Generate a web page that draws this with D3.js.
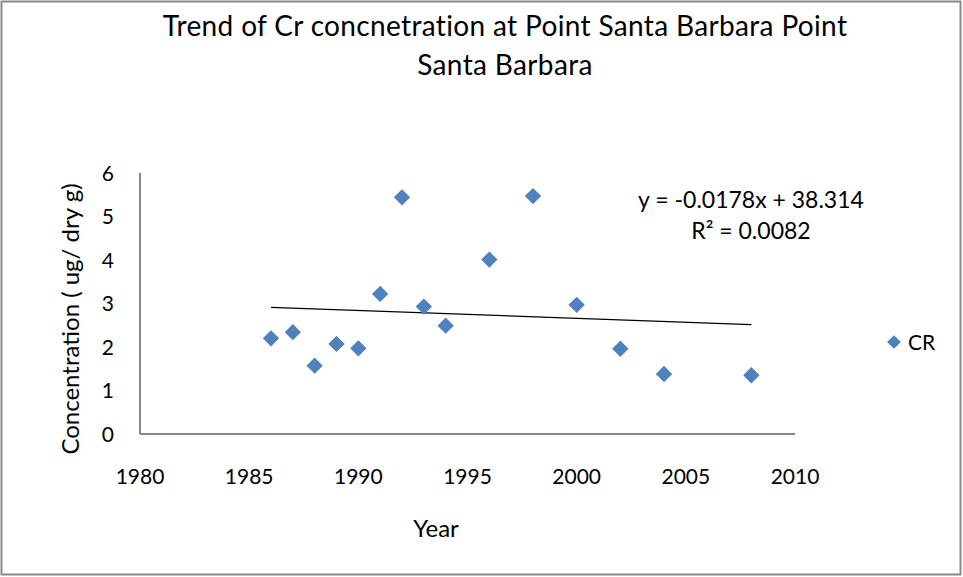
<!DOCTYPE html>
<html lang="en">
<head>
<meta charset="UTF-8">
<title>Trend of Cr concentration</title>
<script src="https://d3js.org/d3.v7.min.js"></script>
<style>
  body { margin: 0; background: #fff; }
  svg text { font-family: Lato, "Open Sans", sans-serif; fill: #000; }
  .tick-label { font-size: 21px; }
</style>
</head>
<body>
<svg id="chart"></svg>
<script>
// Data
var years = [1986, 1987, 1988, 1989, 1990, 1991, 1992, 1993, 1994, 1996, 1998, 2000, 2002, 2004, 2008];
var crValues = [2.20, 2.34, 1.57, 2.07, 1.97, 3.22, 5.44, 2.93, 2.49, 4.01, 5.47, 2.97, 1.96, 1.38, 1.35];
var xTicks = [1980, 1985, 1990, 1995, 2000, 2005, 2010];
var yTicks = [0, 1, 2, 3, 4, 5, 6];
var titleLines = ["Trend of Cr concnetration at Point Santa Barbara Point", "Santa Barbara"];
var equationLines = ["y = -0.0178x + 38.314", "R\u00b2 = 0.0082"];

var W = 963, H = 577;
var svg = d3.select("#chart").attr("width", W).attr("height", H);

// outer frame
svg.append("rect")
  .attr("x", 1.5).attr("y", 1.5)
  .attr("width", W - 4).attr("height", H - 4)
  .attr("fill", "none").attr("stroke", "#898989").attr("stroke-width", 2);

// scales
var x = d3.scaleLinear().domain([1980, 2010]).range([140, 795]);
var y = d3.scaleLinear().domain([0, 6]).range([434, 173]);

// axes lines
svg.append("line")
  .attr("x1", x(1980)).attr("x2", x(1980))
  .attr("y1", y(0)).attr("y2", y(6))
  .attr("stroke", "#868686").attr("stroke-width", 2);
svg.append("line")
  .attr("x1", x(1980)).attr("x2", x(2010))
  .attr("y1", y(0)).attr("y2", y(0))
  .attr("stroke", "#868686").attr("stroke-width", 2);

// tick labels
svg.selectAll(".ylab").data(yTicks).enter().append("text")
  .attr("class", "tick-label")
  .attr("x", 114).attr("y", d => y(d))
  .attr("dy", "0.36em")
  .attr("text-anchor", "end")
  .text(d => d);

svg.selectAll(".xlab").data(xTicks).enter().append("text")
  .attr("class", "tick-label")
  .attr("x", d => x(d)).attr("y", 484)
  .attr("text-anchor", "middle")
  .text(d => d);

// title
svg.selectAll(".title").data(titleLines).enter().append("text")
  .attr("x", 505).attr("y", (d, i) => 36 + i * 39)
  .attr("text-anchor", "middle")
  .style("font-size", "28px")
  .style("letter-spacing", "0.35px")
  .text(d => d);

// axis titles
svg.append("text")
  .attr("x", 436).attr("y", 537)
  .attr("text-anchor", "middle")
  .style("font-size", "24px")
  .text("Year");

svg.append("text")
  .attr("transform", "translate(79,319) rotate(-90)")
  .attr("text-anchor", "middle")
  .style("font-size", "24px")
  .text("Concentration ( ug/ dry g)");

// linear trendline (least squares on the data)
var pts = years.map((yr, i) => [yr, crValues[i]]);
var mx = d3.mean(years), my = d3.mean(crValues);
var sxy = d3.sum(pts, p => (p[0] - mx) * (p[1] - my));
var sxx = d3.sum(years, v => (v - mx) * (v - mx));
var slope = sxy / sxx, icpt = my - slope * mx;
var xExt = d3.extent(years);
svg.append("line")
  .attr("x1", x(xExt[0])).attr("y1", y(icpt + slope * xExt[0]))
  .attr("x2", x(xExt[1])).attr("y2", y(icpt + slope * xExt[1]))
  .attr("stroke", "#000").attr("stroke-width", 1.2);

// markers
var diamond = d3.symbol().type(d3.symbolDiamond2).size(170);
svg.selectAll(".pt").data(pts).enter().append("path")
  .attr("d", diamond)
  .attr("transform", d => "translate(" + x(d[0]) + "," + y(d[1]) + ")")
  .attr("fill", "#4f81bd");

// equation
svg.selectAll(".eq").data(equationLines).enter().append("text")
  .attr("x", 751).attr("y", (d, i) => 208 + i * 31)
  .attr("text-anchor", "middle")
  .style("font-size", "23px")
  .text(d => d);

// legend
svg.append("path")
  .attr("d", d3.symbol().type(d3.symbolDiamond2).size(120))
  .attr("transform", "translate(894,342)")
  .attr("fill", "#4f81bd");
svg.append("text")
  .attr("x", 908).attr("y", 342)
  .attr("dy", "0.36em")
  .style("font-size", "21px")
  .text("CR");
</script>
</body>
</html>
